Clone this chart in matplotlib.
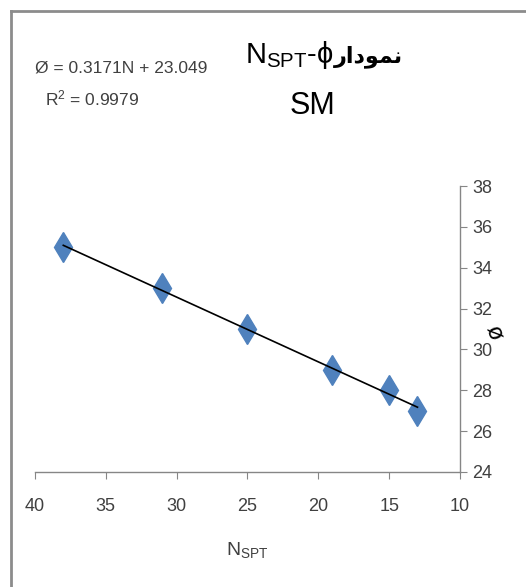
import matplotlib
matplotlib.use("Agg")
import matplotlib.pyplot as plt
import numpy as np
from matplotlib.lines import Line2D

# data: SPT blow count vs friction angle (SM soil)
n_spt = [38, 31, 25, 19, 15, 13]
phi = [35, 33, 31, 29, 28, 27]
slope = 0.3171
intercept = 23.049
x_ticks = [40, 35, 30, 25, 20, 15, 10]
y_ticks = [24, 26, 28, 30, 32, 34, 36, 38]

fonts = ["Liberation Sans", "DejaVu Sans"]
plt.rcParams["font.family"] = fonts
plt.rcParams["mathtext.fontset"] = "custom"
plt.rcParams["mathtext.rm"] = "Liberation Sans"

fig = plt.figure(figsize=(5.26, 5.87), dpi=100)
ax = fig.add_axes([0.0665, 0.196, 0.808, 0.487])

# scatter points and linear trend line
ax.plot(n_spt, phi, linestyle="none", marker="d", markersize=15,
        color="#4F81BD", zorder=3)
xs = np.array([n_spt[0], n_spt[-1]])
ax.plot(xs, slope * xs + intercept, color="black", linewidth=1.2, zorder=4)

ax.set_xlim(40, 10)
ax.set_ylim(24, 38)
ax.set_xticks(x_ticks)
ax.set_yticks(y_ticks)
ax.yaxis.tick_right()
ax.yaxis.set_label_position("right")
for side in ["top", "left"]:
    ax.spines[side].set_visible(False)
for side in ["bottom", "right"]:
    ax.spines[side].set_color("#868686")
    ax.spines[side].set_linewidth(1)
ax.tick_params(axis="both", colors="#868686", length=5, labelsize=13,
               labelcolor="#404040")
ax.tick_params(axis="x", pad=14)
ax.tick_params(axis="y", pad=4)

ax.set_xlabel(r"$\mathregular{N_{SPT}}$", fontsize=14, color="#404040",
              labelpad=18)
ax.set_ylabel("ø", fontsize=17, color="black", rotation=-70, labelpad=8)

# regression text
fig.text(0.067, 0.884, "Ø = 0.3171N + 23.049", fontsize=12.5, color="#404040",
         ha="left", va="center")
fig.text(0.086, 0.832, r"R$\mathregular{^2}$ = 0.9979", fontsize=12.5,
         color="#404040", ha="left", va="center")

# title: N_SPT-phi followed by the Persian word for "chart"
t1 = fig.text(0.466, 0.893, r"$\mathregular{N_{SPT}}$-ϕ", fontsize=21,
              ha="left", va="baseline", color="black")
word = "\uFEAD\uFE8D\uFEA9\uFEEE\uFEE4\uFEE7"
ax.annotate(word, xy=(1, 0), xycoords=t1, xytext=(0, 2),
            textcoords="offset points", fontsize=16, fontweight="bold",
            ha="left", va="bottom", family="DejaVu Sans", annotation_clip=False)
fig.text(0.594, 0.820, "SM", fontsize=22, ha="center", va="center",
         color="black")

# outer frame (top and left edges)
fig.add_artist(Line2D([11 / 526, 1], [1 - 11 / 587] * 2, color="#8c8c8c",
                      linewidth=2, transform=fig.transFigure))
fig.add_artist(Line2D([11 / 526] * 2, [0, 1 - 11 / 587], color="#8c8c8c",
                      linewidth=2, transform=fig.transFigure))

fig.savefig("out.png", dpi=100)
